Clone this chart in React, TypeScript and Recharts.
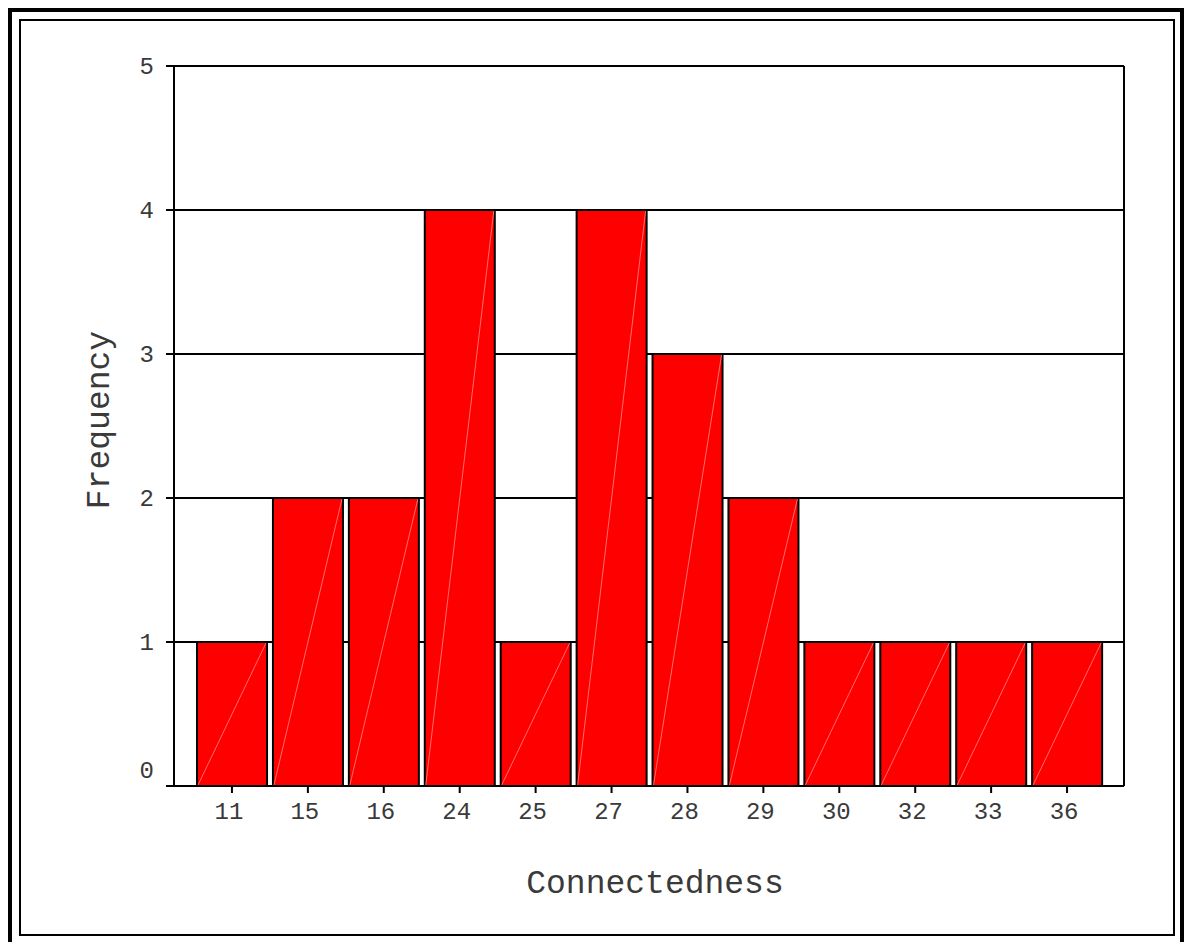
import React from 'react';
import { BarChart, Bar, XAxis, YAxis, CartesianGrid } from 'recharts';

const categories = ['11', '15', '16', '24', '25', '27', '28', '29', '30', '32', '33', '36'];
const frequencies = [1, 2, 2, 4, 1, 4, 3, 2, 1, 1, 1, 1];
const yTicks = [0, 1, 2, 3, 4, 5];
const xTitle = 'Connectedness';
const yTitle = 'Frequency';

const data = categories.map((c, i) => ({ connectedness: c, frequency: frequencies[i] }));

const FONT = '"Liberation Mono", "DejaVu Sans Mono", monospace';
const TEXT = '#3a3a3a';

const BarShape = (props: any) => {
  const { x, y, width, height } = props;
  if (!height || height <= 0) return null;
  return (
    <g>
      <rect x={x} y={y} width={width} height={height} fill="#ff0000" stroke="#000" strokeWidth={2} />
      <line
        x1={x + 1}
        y1={y + height - 1}
        x2={x + width - 1}
        y2={y + 1}
        stroke="#ff9a9a"
        strokeWidth={1}
        strokeOpacity={0.7}
      />
    </g>
  );
};

const YTick = (props: any) => {
  const { x, y, payload } = props;
  return (
    <text
      x={x}
      y={payload.value === 0 ? y - 16 : y}
      dy="0.35em"
      textAnchor="end"
      fontFamily={FONT}
      fontSize={24}
      fill={TEXT}
    >
      {payload.value}
    </text>
  );
};

const XTick = (props: any) => {
  const { x, y, payload } = props;
  return (
    <text x={x - 3} y={y} dy="0.71em" textAnchor="middle" fontFamily={FONT} fontSize={24} fill={TEXT}>
      {payload.value}
    </text>
  );
};

const XLabel = (props: any) => {
  const vb = props.viewBox || {};
  return (
    <text
      x={vb.x + vb.width / 2 + 6}
      y={893}
      textAnchor="middle"
      fontFamily={FONT}
      fontSize={33}
      fill={TEXT}
    >
      {xTitle}
    </text>
  );
};

const YLabel = (props: any) => {
  const vb = props.viewBox || {};
  const cx = 100;
  const cy = vb.y + vb.height / 2 - 6;
  return (
    <text
      x={cx}
      y={cy}
      transform={`rotate(-90 ${cx} ${cy})`}
      textAnchor="middle"
      dominantBaseline="central"
      fontFamily={FONT}
      fontSize={33}
      fill={TEXT}
    >
      {yTitle}
    </text>
  );
};

export default function App() {
  return (
    <div
      style={{
        position: 'absolute',
        left: 0,
        top: 0,
        width: 1185,
        height: 942,
        background: '#fff',
        overflow: 'hidden',
      }}
    >
      <div
        style={{
          position: 'absolute',
          left: 8,
          top: 8,
          width: 1176,
          height: 1000,
          border: '4px solid #000',
          boxSizing: 'border-box',
        }}
      />
      <div
        style={{
          position: 'absolute',
          left: 19,
          top: 19,
          width: 1156,
          height: 917,
          border: '2px solid #000',
          boxSizing: 'border-box',
        }}
      />
      <div style={{ position: 'absolute', left: 0, top: 0 }}>
        <BarChart
          width={1185}
          height={942}
          data={data}
          margin={{ top: 66, right: 61, bottom: 36, left: 94 }}
          barCategoryGap="4%"
        >
          <CartesianGrid
            stroke="#000"
            strokeWidth={2}
            horizontal={true}
            vertical={true}
            verticalCoordinatesGenerator={({ offset }: any) => [offset.left, offset.left + offset.width]}
          />
          <XAxis
            dataKey="connectedness"
            height={120}
            padding={{ left: 20, right: 19 }}
            axisLine={{ stroke: '#000', strokeWidth: 2 }}
            tickLine={{ stroke: '#000', strokeWidth: 2 }}
            tickSize={7}
            tickMargin={9}
            tick={<XTick />}
            interval={0}
            label={<XLabel />}
          />
          <YAxis
            width={80}
            domain={[0, 5]}
            ticks={yTicks}
            allowDecimals={false}
            axisLine={{ stroke: '#000', strokeWidth: 2 }}
            tickLine={{ stroke: '#000', strokeWidth: 2 }}
            tickSize={8}
            tickMargin={12}
            tick={<YTick />}
            label={<YLabel />}
          />
          <Bar dataKey="frequency" shape={<BarShape />} isAnimationActive={false} />
        </BarChart>
      </div>
    </div>
  );
}
